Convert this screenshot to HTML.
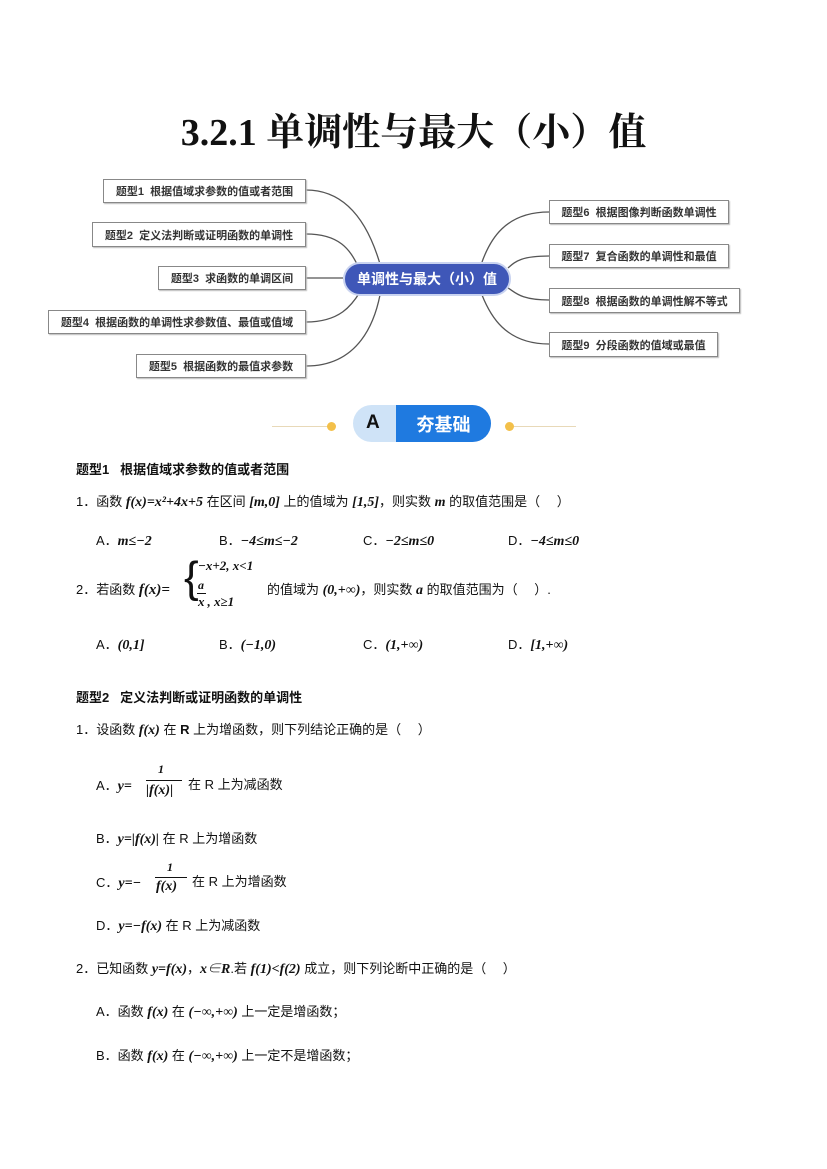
<!DOCTYPE html>
<html><head><meta charset="utf-8"><style>
body{margin:0;width:827px;height:1169px;background:#fff;position:relative;font-family:"Liberation Sans","Noto Sans CJK SC",sans-serif;color:#111;overflow:hidden}
.a{position:absolute;white-space:nowrap}
.box{position:absolute;border:1.5px solid #888;background:#fff;font-size:11px;font-weight:bold;color:#333;display:flex;align-items:center;justify-content:center;box-sizing:border-box;box-shadow:1px 1px 1px #bbb}
.t{font-size:13px}
.m{font-family:"Liberation Serif","Noto Serif CJK SC",serif;font-weight:bold;font-style:italic;font-size:14px}
.h{font-size:13px;font-weight:bold}
</style></head><body>
<div class="a" style="left:0;width:827px;top:101px;text-align:center;font-family:'Liberation Serif','Noto Serif CJK SC',serif;font-weight:bold;font-size:38px">3.2.1 单调性与最大（小）值</div>

<svg class="a" style="left:0;top:0" width="827" height="400">
<g fill="none" stroke="#555" stroke-width="1.3">
<path d="M306 190 C350 190 370 230 380 264"/>
<path d="M306 234 C340 234 350 250 358 266"/>
<path d="M306 278 L343 278"/>
<path d="M306 322 C340 322 352 305 360 292"/>
<path d="M306 366 C360 366 375 320 380 295"/>
<path d="M549 212 C505 212 490 240 482 262"/>
<path d="M549 256 C520 256 515 262 508 268"/>
<path d="M549 300 C520 300 515 292 508 288"/>
<path d="M549 344 C505 344 490 315 482 295"/>
</g></svg>
<div class="box" style="left:103px;top:179px;width:203px;height:24px">题型1&nbsp; 根据值域求参数的值或者范围</div>
<div class="box" style="left:92px;top:222px;width:214px;height:25px">题型2&nbsp; 定义法判断或证明函数的单调性</div>
<div class="box" style="left:158px;top:266px;width:148px;height:24px">题型3&nbsp; 求函数的单调区间</div>
<div class="box" style="left:48px;top:310px;width:258px;height:24px">题型4&nbsp; 根据函数的单调性求参数值、最值或值域</div>
<div class="box" style="left:136px;top:354px;width:170px;height:24px">题型5&nbsp; 根据函数的最值求参数</div>
<div class="box" style="left:549px;top:200px;width:180px;height:24px">题型6&nbsp; 根据图像判断函数单调性</div>
<div class="box" style="left:549px;top:244px;width:180px;height:24px">题型7&nbsp; 复合函数的单调性和最值</div>
<div class="box" style="left:549px;top:288px;width:191px;height:25px">题型8&nbsp; 根据函数的单调性解不等式</div>
<div class="box" style="left:549px;top:332px;width:169px;height:25px">题型9&nbsp; 分段函数的值域或最值</div>
<div class="a" style="left:343px;top:262px;width:168px;height:34px;border-radius:17px;background:#3f57b8;border:2px solid #c9d3f0;box-sizing:border-box;color:#fff;font-weight:bold;font-size:14px;display:flex;align-items:center;justify-content:center">单调性与最大（小）值</div>

<div class="a" style="left:272px;top:426px;width:58px;height:1px;background:#e8d9b8"></div>
<div class="a" style="left:327px;top:422px;width:9px;height:9px;border-radius:50%;background:#f3c04a"></div>
<div class="a" style="left:353px;top:405px;width:138px;height:37px;border-radius:19px;background:#cfe3f7"></div>
<div class="a" style="left:396px;top:405px;width:95px;height:37px;border-radius:0 19px 19px 0;background:#1f7ae0;color:#fff;font-weight:bold;font-size:18px;display:flex;align-items:center;justify-content:center">夯基础</div>
<div class="a" style="left:366px;top:412px;font-weight:bold;font-size:19px">A</div>
<div class="a" style="left:505px;top:422px;width:9px;height:9px;border-radius:50%;background:#f3c04a"></div>
<div class="a" style="left:514px;top:426px;width:62px;height:1px;background:#e8d9b8"></div>

<div class="a h" style="left:76px;top:459px">题型1&nbsp;&nbsp; 根据值域求参数的值或者范围</div>
<div class="a t" style="left:76px;top:491px">1．函数 <span class="m">f(x)=x²+4x+5</span> 在区间 <span class="m">[m,0]</span> 上的值域为 <span class="m">[1,5]</span>，则实数 <span class="m">m</span> 的取值范围是（　 ）</div>
<div class="a t" style="left:96px;top:530px">A．<span class="m">m≤−2</span></div>
<div class="a t" style="left:219px;top:530px">B．<span class="m">−4≤m≤−2</span></div>
<div class="a t" style="left:363px;top:530px">C．<span class="m">−2≤m≤0</span></div>
<div class="a t" style="left:508px;top:530px">D．<span class="m">−4≤m≤0</span></div>
<div class="a t" style="left:76px;top:579px">2．若函数 <span class="m" style="font-size:15px">f(x)=</span></div>
<div class="a" style="left:184px;top:556px;font-size:44px;line-height:44px;font-weight:100">{</div>
<div class="a m" style="left:198px;top:558px;font-size:13px">−x+2, x&lt;1</div>
<div class="a m" style="left:198px;top:578px;font-size:12px">a</div>
<div class="a m" style="left:198px;top:594px;font-size:13px">x<span style="margin-left:3px">, x≥1</span></div>
<div class="a" style="left:197px;top:593px;width:9px;height:1px;background:#111"></div>
<div class="a t" style="left:267px;top:579px">的值域为 <span class="m">(0,+∞)</span>，则实数 <span class="m">a</span> 的取值范围为（　 ）.</div>
<div class="a t" style="left:96px;top:634px">A．<span class="m">(0,1]</span></div>
<div class="a t" style="left:219px;top:634px">B．<span class="m">(−1,0)</span></div>
<div class="a t" style="left:363px;top:634px">C．<span class="m">(1,+∞)</span></div>
<div class="a t" style="left:508px;top:634px">D．<span class="m">[1,+∞)</span></div>

<div class="a h" style="left:76px;top:687px">题型2&nbsp;&nbsp; 定义法判断或证明函数的单调性</div>
<div class="a t" style="left:76px;top:719px">1．设函数 <span class="m">f(x)</span> 在 <b>R</b> 上为增函数，则下列结论正确的是（　 ）</div>
<div class="a t" style="left:96px;top:775px">A．<span class="m">y=</span></div>
<div class="a m" style="left:158px;top:762px;font-size:12px">1</div>
<div class="a" style="left:146px;top:780px;width:36px;height:1px;background:#111"></div>
<div class="a m" style="left:146px;top:783px">|f(x)|</div>
<div class="a t" style="left:188px;top:774px">在 R 上为减函数</div>
<div class="a t" style="left:96px;top:828px">B．<span class="m">y=|f(x)|</span> 在 R 上为增函数</div>
<div class="a t" style="left:96px;top:872px">C．<span class="m">y=−</span></div>
<div class="a m" style="left:167px;top:860px;font-size:12px">1</div>
<div class="a" style="left:155px;top:877px;width:32px;height:1px;background:#111"></div>
<div class="a m" style="left:156px;top:879px">f(x)</div>
<div class="a t" style="left:192px;top:871px">在 R 上为增函数</div>
<div class="a t" style="left:96px;top:915px">D．<span class="m">y=−f(x)</span> 在 R 上为减函数</div>
<div class="a t" style="left:76px;top:958px">2．已知函数 <span class="m">y=f(x)</span>，<span class="m">x∈R</span>.若 <span class="m">f(1)&lt;f(2)</span> 成立，则下列论断中正确的是（　 ）</div>
<div class="a t" style="left:96px;top:1001px">A．函数 <span class="m">f(x)</span> 在 <span class="m">(−∞,+∞)</span> 上一定是增函数；</div>
<div class="a t" style="left:96px;top:1045px">B．函数 <span class="m">f(x)</span> 在 <span class="m">(−∞,+∞)</span> 上一定不是增函数；</div>
</body></html>
